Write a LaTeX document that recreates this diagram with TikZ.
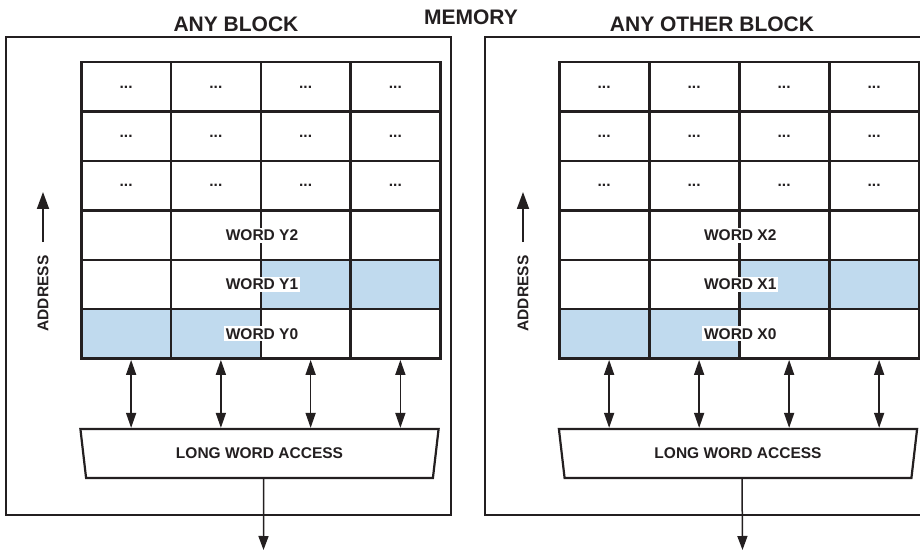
\documentclass[tikz,border=0pt]{standalone}
\usepackage{fontspec}
\setmainfont{Liberation Sans}
\usetikzlibrary{arrows.meta, shapes.geometric}
\definecolor{ink}{HTML}{231F20}
\definecolor{cellblue}{HTML}{C0DAEE}
\tikzset{
  headline/.style={font=\bfseries\fontsize{21}{23}\selectfont, text=ink},
  celltext/.style={font=\bfseries\fontsize{15.5}{17}\selectfont, text=ink},
  memcell/.style={draw=ink, line width=2.5pt, fill=white, minimum width=89.75pt, minimum height=49.4pt, inner sep=0pt, anchor=north west, celltext},
  bluecell/.style={memcell, fill=cellblue},
  wordtag/.style={celltext, fill=white, inner sep=2pt},
  blockframe/.style={draw=ink, line width=2.2pt},
  accessbox/.style={trapezium, shape border rotate=180, trapezium angle=76, trapezium stretches=true, draw=ink, line width=2.2pt, fill=white, minimum width=359pt, minimum height=49pt, inner sep=0pt, celltext},
  busarrow/.style={draw=ink, line width=1.5pt, {Triangle[length=15pt,width=10pt]}-{Triangle[length=15pt,width=10pt]}},
  outarrow/.style={draw=ink, line width=1.5pt, -{Triangle[length=14pt,width=10pt]}},
  addrarrow/.style={draw=ink, line width=1.8pt, -{Triangle[length=17pt,width=12pt]}}
}

\begin{document}
\begin{tikzpicture}[x=1pt,y=1pt]
\useasboundingbox (0,0) rectangle (920,551);
\clip (0,0) rectangle (920,551);

% titles
\node[headline] (ttlL) at (236,527) {ANY BLOCK};
\node[headline] (ttlM) at (471,534) {MEMORY};
\node[headline] (ttlR) at (712,527) {ANY OTHER BLOCK};

% block frames
\draw[blockframe] (6,36) rectangle (451,514);
\draw[blockframe] (485,36) rectangle (930,514);

% left block: cells
\foreach \r in {1,2,3}
  \foreach \c in {1,...,4}
    \node[memcell] (L-\r-\c) at ({80+(\c-1)*89.75},{490-(\r-1)*49.4}) {...};
\foreach \r/\c/\s in {4/1/memcell,4/2/memcell,4/3/memcell,4/4/memcell,
                      5/1/memcell,5/2/memcell,5/3/bluecell,5/4/bluecell,
                      6/1/bluecell,6/2/bluecell,6/3/memcell,6/4/memcell}
  \node[\s] (L-\r-\c) at ({80+(\c-1)*89.75},{490-(\r-1)*49.4}) {};
\node[wordtag] (Ly2) at (L-4-2.east) {WORD Y2};
\node[wordtag] (Ly1) at (L-5-2.east) {WORD Y1};
\node[wordtag] (Ly0) at (L-6-2.east) {WORD Y0};

% right block: cells
\foreach \r in {1,2,3}
  \foreach \c in {1,...,4}
    \node[memcell] (R-\r-\c) at ({558+(\c-1)*90},{490-(\r-1)*49.4}) {...};
\foreach \r/\c/\s in {4/1/memcell,4/2/memcell,4/3/memcell,4/4/memcell,
                      5/1/memcell,5/2/memcell,5/3/bluecell,5/4/bluecell,
                      6/1/bluecell,6/2/bluecell,6/3/memcell,6/4/memcell}
  \node[\s] (R-\r-\c) at ({558+(\c-1)*90},{490-(\r-1)*49.4}) {};
\node[wordtag] (Rx2) at (R-4-2.east) {WORD X2};
\node[wordtag] (Rx1) at (R-5-2.east) {WORD X1};
\node[wordtag] (Rx0) at (R-6-2.east) {WORD X0};

% address direction
\node[celltext, rotate=90] (Laddr) at (43,257.5) {ADDRESS};
\coordinate (Laddrtip) at (43,359);
\draw[addrarrow, shorten <=10pt] (Laddr.east) -- (Laddrtip);
\node[celltext, rotate=90] (Raddr) at (523,257.5) {ADDRESS};
\coordinate (Raddrtip) at (523,359);
\draw[addrarrow, shorten <=10pt] (Raddr.east) -- (Raddrtip);

% long word access
\node[accessbox] (Lacc) at (259.5,97.5) {LONG WORD ACCESS};
\node[accessbox] (Racc) at (738,97.5) {LONG WORD ACCESS};
\foreach \c in {1,...,4} {
  \draw[busarrow] ([xshift=5pt]L-6-\c.south) -- ([xshift=5pt]L-6-\c.south |- Lacc.north);
  \draw[busarrow] ([xshift=5pt]R-6-\c.south) -- ([xshift=5pt]R-6-\c.south |- Racc.north);
}
\coordinate (Lout) at (263.5,1);
\coordinate (Rout) at (742.5,1);
\draw[outarrow] ([xshift=4pt]Lacc.south) -- (Lout);
\draw[outarrow] ([xshift=4pt]Racc.south) -- (Rout);

\end{tikzpicture}
\end{document}
